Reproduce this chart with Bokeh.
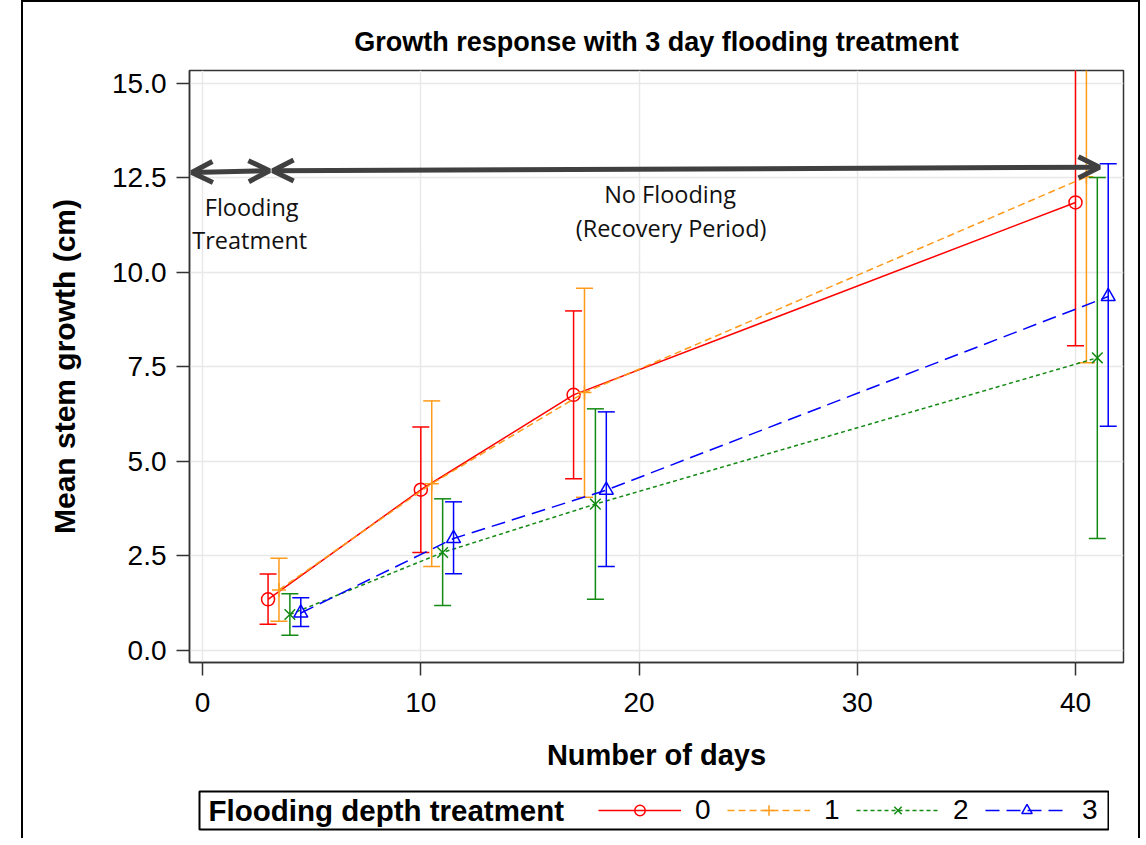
from bokeh.plotting import figure
from bokeh.models import (Legend, LegendItem, Arrow, OpenHead, Label, FixedTicker,
                          PrintfTickFormatter, Range1d, Spacer)
from bokeh.layouts import column, row
from bokeh.embed import file_html
from bokeh.resources import INLINE

# ---------------- data ----------------
title_text = "Growth response with 3 day flooding treatment"
x_label = "Number of days"
y_label = "Mean stem growth (cm)"
legend_title = "Flooding depth treatment"

groups = ["0", "1", "2", "3"]

x_g0 = [3, 10, 17, 40]
x_g1 = [3.5, 10.5, 17.5, 40.5]
x_g2 = [4, 11, 18, 41]
x_g3 = [4.5, 11.5, 18.5, 41.5]

mean_g0 = [1.35, 4.25, 6.76, 11.85]
low_g0 = [0.69, 2.59, 4.54, 8.06]
up_g0 = [2.02, 5.91, 8.98, 15.65]

mean_g1 = [1.60, 4.41, 6.82, 12.53]
low_g1 = [0.77, 2.22, 4.05, 7.61]
up_g1 = [2.44, 6.60, 9.58, 17.45]

mean_g2 = [0.95, 2.59, 3.87, 7.74]
low_g2 = [0.40, 1.19, 1.35, 2.96]
up_g2 = [1.50, 4.01, 6.39, 12.51]

mean_g3 = [0.99, 2.96, 4.24, 9.36]
low_g3 = [0.63, 2.03, 2.22, 5.93]
up_g3 = [1.39, 3.93, 6.31, 12.87]

x_ticks = [0, 10, 20, 30, 40]
y_ticks = [0.0, 2.5, 5.0, 7.5, 10.0, 12.5, 15.0]

# annotation arrows (data coordinates)
arrow_x_start = [-0.50, 3.21]
arrow_x_end = [3.07, 41.10]
arrow_y_start = [12.64, 12.69]
arrow_y_end = [12.69, 12.78]

note_texts = ["Flooding", "Treatment", "No Flooding", "(Recovery Period)"]
note_x = [2.25, 2.16, 21.42, 21.47]
note_y = [11.72, 10.85, 12.07, 11.17]

# ---------------- styles ----------------
colors = ["#ff0000", "#ff9a1a", "#138a13", "#0000ff"]
dashes = ["solid", "7 4", "4 3", "14 7"]
markers = ["circle", "cross", "x", "triangle"]
msizes = [13, 14, 15, 14]
FONT = "Liberation Sans"
AX = "#333333"

p = figure(width=1115, height=788,
           x_range=Range1d(-0.6, 42.2), y_range=Range1d(-0.32, 15.34),
           output_backend="svg", toolbar_location=None,
           min_border_left=166, min_border_right=15,
           min_border_top=68, min_border_bottom=128)

p.title.text = title_text
p.title.align = "center"
p.title.text_font = FONT
p.title.text_font_size = "27px"
p.title.text_font_style = "bold"
p.title.text_color = "black"
p.title.standoff = 27

p.outline_line_color = AX
p.outline_line_width = 1.5
p.background_fill_color = "white"
p.border_fill_color = "white"

p.xaxis.ticker = FixedTicker(ticks=x_ticks)
p.yaxis.ticker = FixedTicker(ticks=y_ticks)
p.yaxis.formatter = PrintfTickFormatter(format="%.1f")
for ax in (p.xaxis, p.yaxis):
    ax.major_label_text_font = FONT
    ax.major_label_text_font_size = "28px"
    ax.major_label_text_color = "black"
    ax.axis_line_color = AX
    ax.axis_line_width = 1.5
    ax.major_tick_line_color = AX
    ax.major_tick_line_width = 1.5
    ax.major_tick_in = 0
    ax.major_tick_out = 13
    ax.minor_tick_line_color = None
    ax.axis_label_text_font = FONT
    ax.axis_label_text_font_style = "bold"
    ax.axis_label_text_color = "black"
p.xaxis.axis_label = x_label
p.yaxis.axis_label = y_label
p.xaxis.axis_label_text_font_size = "29px"
p.yaxis.axis_label_text_font_size = "30px"
p.xaxis.major_label_standoff = 17
p.yaxis.major_label_standoff = 10
p.xaxis.axis_label_standoff = 24
p.yaxis.axis_label_standoff = 28

p.grid.grid_line_color = "#e8e8e8"
p.grid.grid_line_width = 1.5

xs = [x_g0, x_g1, x_g2, x_g3]
means = [mean_g0, mean_g1, mean_g2, mean_g3]
lows = [low_g0, low_g1, low_g2, low_g3]
ups = [up_g0, up_g1, up_g2, up_g3]

for i, g in enumerate(groups):
    c = colors[i]
    p.segment(x0=xs[i], y0=lows[i], x1=xs[i], y1=ups[i], line_color=c, line_width=1.5)
    p.scatter(xs[i], lows[i], marker="dash", size=17, line_color=c, line_width=1.5)
    p.scatter(xs[i], ups[i], marker="dash", size=17, line_color=c, line_width=1.5)
    p.line(xs[i], means[i], line_color=c, line_width=1.5, line_dash=dashes[i])
    p.scatter(xs[i], means[i], marker=markers[i], size=msizes[i],
              line_color=c, fill_color=None, line_width=1.5)

for i in range(len(arrow_x_start)):
    head_kw = dict(size=21, line_width=5, line_color="#404040")
    p.add_layout(Arrow(start=OpenHead(**head_kw), end=OpenHead(**head_kw),
                       x_start=arrow_x_start[i], y_start=arrow_y_start[i],
                       x_end=arrow_x_end[i], y_end=arrow_y_end[i],
                       line_width=5, line_color="#404040"))

for t, x, y in zip(note_texts, note_x, note_y):
    p.add_layout(Label(x=x, y=y, text=t, text_font="Open Sans", text_font_size="23.5px",
                       text_align="center", text_baseline="middle", text_color="#111111"))

# ---------------- legend (separate boxed strip) ----------------
p2 = figure(width=911, height=48, x_range=Range1d(0, 909), y_range=Range1d(0, 38),
            output_backend="svg", toolbar_location=None,
            min_border_left=1, min_border_right=1, min_border_top=1, min_border_bottom=9,
            x_axis_type=None, y_axis_type=None)
p2.grid.visible = False
p2.outline_line_color = "black"
p2.outline_line_width = 2
p2.background_fill_color = "white"
p2.border_fill_color = "white"

items = []
for i, g in enumerate(groups):
    c = colors[i]
    # legend-only proxies placed outside the visible range
    lr = p2.line([-100, -90], [-100, -100], line_color=c, line_width=1.5, line_dash=dashes[i])
    mr = p2.scatter([-100], [-100], marker=markers[i], size=msizes[i] - 1,
                    line_color=c, fill_color=None, line_width=1.5)
    items.append(LegendItem(label=g, renderers=[lr, mr]))

p2.add_layout(Label(x=9, y=19, text=legend_title, text_font=FONT, text_font_size="29.5px",
                    text_font_style="bold", text_baseline="middle", text_color="black"))

legend = Legend(items=items, orientation="horizontal", location="right")
legend.label_text_font = FONT
legend.label_text_font_size = "28px"
legend.label_text_color = "black"
legend.glyph_width = 83
legend.glyph_height = 26
legend.label_height = 26
legend.label_standoff = 14
legend.spacing = 12
legend.padding = 6
legend.margin = 6
legend.border_line_color = None
legend.background_fill_alpha = 0
p2.add_layout(legend)

layout = column(p, row(Spacer(width=175, height=48), p2),
                margin=(0, 0, 0, 21),
                styles={"border-top": "2px solid black",
                        "border-left": "2px solid black",
                        "border-right": "2px solid black"})

open("out.html", "w").write(file_html(layout, INLINE))
